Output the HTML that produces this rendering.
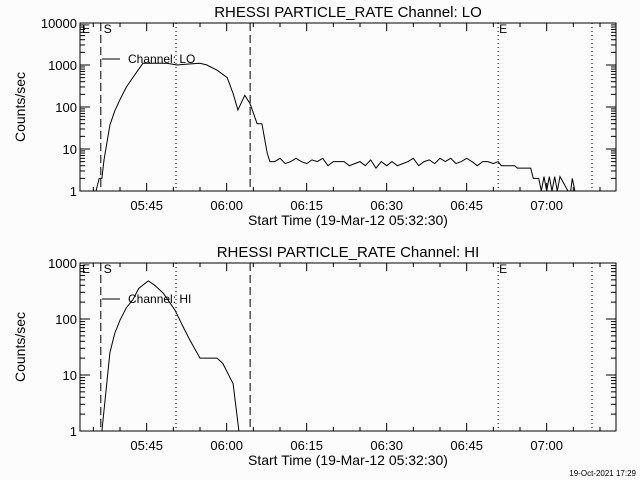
<!DOCTYPE html>
<html><head><meta charset="utf-8"><style>
body{margin:0;background:#fcfcfc;}
svg{display:block;font-family:"Liberation Sans",sans-serif;}
</style></head><body>
<svg id="c" width="640" height="480" xmlns="http://www.w3.org/2000/svg"></svg>
<script>
// times in minutes since 05:32:30
const loTimes=[3.0,3.6,4.1,4.5,5.6,6.5,7.5,8.7,9.9,11.8,14.4,16.3,18.2,20.1,22.5,23.8,25.7,27.6,28.7,29.6,30.9,31.9,33.2,34.1,35.1,35.6,
36.5,37.5,38.5,39.5,40.5,41.5,42.5,43.5,44.5,45.5,46.5,47.5,48.5,49.5,50.5,51.5,52.5,53.5,54.5,55.5,56.5,57.5,58.5,59.5,60.5,61.5,62.5,63.5,64.5,65.5,66.5,67.5,68.5,69.5,70.5,71.5,72.5,73.5,74.5,75.5,76.5,77.5,78.4,
79.0,81.5,82.0,84.5,85.0,86.0,86.5,87.0,87.5,88.0,88.5,89.0,89.5,90.0,91.5,92.0,92.3,92.8];
const loValues=[1,2,2,5.5,37,80,150,300,500,1100,1100,1100,1000,1050,1100,1000,750,500,210,85,190,120,40,40,8,5,
5,6,4.5,5,6,5,4.5,5.5,5,6,4,5,5,5,4,4.5,5,4,5.5,3.5,5,4,5,4,4.5,5,6,4,5,5.5,4.5,6,5,6,4.5,5,6,5,4,5,5,4.5,5,
4,4,3.5,3.5,2,2,1,2.2,1,2.2,1,2.2,1,2.2,1,1,2,1];
const hiTimes=[4.1,5.6,6.5,7.5,8.7,9.9,11.0,12.8,14.0,15.6,17.8,19.1,20.6,22.5,24.4,25.7,26.8,28.7,29.8];
const hiValues=[1,25,55,95,160,220,350,480,400,290,145,80,42,20,20,20,16,7,1];
const xTickLabels=["05:45","06:00","06:15","06:30","06:45","07:00"];
const xTickTimes=[12.5,27.5,42.5,57.5,72.5,87.5];
const loYLabels=["1","10","100","1000","10000"];
const hiYLabels=["1","10","100","1000"];
const dashedTimes=[3.9,31.9];
const dottedTimes=[18,78.4,96];

const svg=document.getElementById('c');
const NS='http://www.w3.org/2000/svg';
function mk(tag,attrs,parent){const e=document.createElementNS(NS,tag);for(const k in attrs)e.setAttribute(k,attrs[k]);(parent||svg).appendChild(e);return e;}
const X0=80,X1=616,TMAX=100.5;
function xs(t){return X0+t*(X1-X0)/TMAX;}

function panel(top,bottom,decades,yLabels,times,vals,title,chan,id){
  const g=mk('g',{});
  
  
  const ys=v=>bottom-(Math.log10(v))*(bottom-top)/decades;
  const t=mk('text',{x:348,y:top-6,'text-anchor':'middle','font-size':15,fill:'#000'},g);
  t.textContent=title;
  
  
  const box=mk('rect',{x:X0,y:top,width:X1-X0,height:bottom-top,fill:'none',stroke:'#000','stroke-width':1},g);
  
  
  for(let d=0;d<=decades;d++){
    const y=ys(Math.pow(10,d));
    mk('line',{x1:X0,x2:X0+10,y1:y,y2:y,stroke:'#000'},g);
    mk('line',{x1:X1,x2:X1-10,y1:y,y2:y,stroke:'#000'},g);
    const l=mk('text',{x:X0-3,y:y+5,'text-anchor':'end','font-size':13},g);
    l.textContent=yLabels[d];
    
    
    if(d<decades)for(let m=2;m<=9;m++){const yy=ys(m*Math.pow(10,d));
      mk('line',{x1:X0,x2:X0+5,y1:yy,y2:yy,stroke:'#000'},g);
      mk('line',{x1:X1,x2:X1-5,y1:yy,y2:yy,stroke:'#000'},g);}
  }
  for(let tm=2.5;tm<TMAX;tm+=5){
    const x=xs(tm);const major=xTickTimes.some(v=>Math.abs(v-tm)<0.01);
    const L=major?8:4;
    mk('line',{x1:x,x2:x,y1:bottom,y2:bottom-L,stroke:'#000'},g);
    mk('line',{x1:x,x2:x,y1:top,y2:top+L,stroke:'#000'},g);
  }
  xTickLabels.forEach((s,i)=>{const l=mk('text',{x:xs(xTickTimes[i]),y:bottom+19,'text-anchor':'middle','font-size':13},g);l.textContent=s;
    
    });
  const xt=mk('text',{x:348,y:bottom+34,'text-anchor':'middle','font-size':14},g);
  xt.textContent='Start Time (19-Mar-12 05:32:30)';
  
  
  const yt=mk('text',{x:0,y:0,'text-anchor':'middle','font-size':14,transform:`translate(25,${(top+bottom)/2}) rotate(-90)`},g);
  yt.textContent='Counts/sec';
  
  
  dashedTimes.forEach(tm=>{const l=mk('line',{x1:xs(tm),x2:xs(tm),y1:top,y2:bottom,stroke:'#000','stroke-dasharray':'8,4'},g);
    });
  dottedTimes.forEach(tm=>{const l=mk('line',{x1:xs(tm),x2:xs(tm),y1:top,y2:bottom,stroke:'#000','stroke-dasharray':'1,3'},g);
    });
  [['S',xs(3.9)+3],['E',xs(78.4)+1],['E',X0+2]].forEach(([s,x])=>{const l=mk('text',{x:x,y:top+10,'font-size':12},g);l.textContent=s;
    });
  const cp=mk('clipPath',{id:'clip'+id},g);mk('rect',{x:X0,y:top,width:X1-X0,height:bottom-top},cp);
  const pts=times.map((tm,i)=>xs(tm).toFixed(1)+','+Math.min(bottom+2,ys(vals[i])).toFixed(1)).join(' ');
  const pl=mk('polyline',{points:pts,fill:'none',stroke:'#000','stroke-width':1,'clip-path':`url(#clip${id})`},g);
  
  
  const ly=top+36;
  const ll=mk('line',{x1:102,x2:120,y1:ly,y2:ly,stroke:'#000'},g);
  
  const lt=mk('text',{x:128,y:ly+4,'font-size':12},g);lt.textContent='Channel: '+chan;
  
}
panel(23,191,4,loYLabels,loTimes,loValues,'RHESSI PARTICLE_RATE Channel: LO','LO','lo');
panel(263,431,3,hiYLabels,hiTimes,hiValues,'RHESSI PARTICLE_RATE Channel: HI','HI','hi');
const f=mk('text',{x:636,y:476,'text-anchor':'end','font-size':8});
f.textContent='19-Oct-2021 17:29';


</script>
</body></html>
